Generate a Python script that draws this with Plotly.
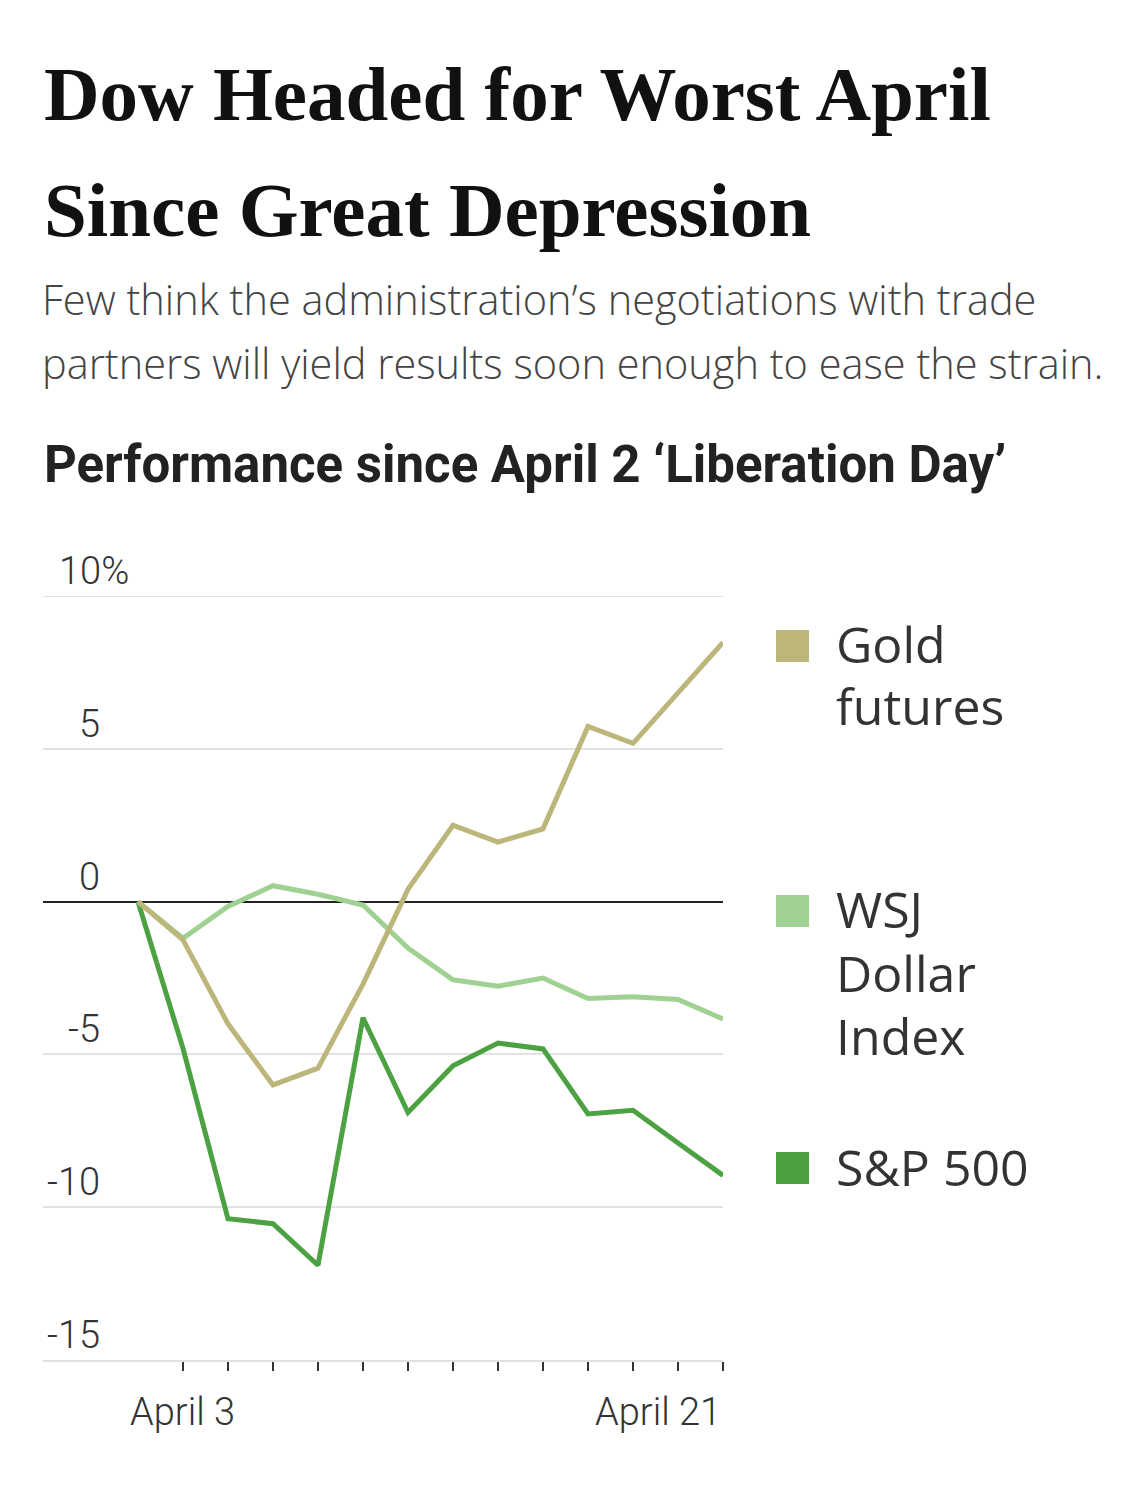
import plotly.graph_objects as go

# ---- data (percent change since April 2) ----
x_idx = list(range(14))
dates = ["Apr 2", "Apr 3", "Apr 4", "Apr 7", "Apr 8", "Apr 9", "Apr 10",
         "Apr 11", "Apr 14", "Apr 15", "Apr 16", "Apr 17", "Apr 21", "Apr 22"]
gold = [0, -1.25, -4.0, -6.0, -5.45, -2.7, 0.4, 2.5, 1.95, 2.38, 5.73, 5.18, 6.83, 8.48]
dollar = [0, -1.2, -0.16, 0.52, 0.24, -0.11, -1.52, -2.56, -2.77, -2.5, -3.17, -3.11, -3.2, -3.84]
sp500 = [0, -4.8, -10.38, -10.54, -11.9, -3.8, -6.9, -5.37, -4.63, -4.82, -6.95, -6.83, -7.9, -8.96]

y_ticks = [10, 5, 0, -5, -10, -15]
y_tick_text = ["10%", "5", "0", "-5", "-10", "-15"]
x_tick_vals = list(range(1, 14))
x_labels = [(1, "April 3", "center"), (13, "April 21", "right")]

legend_items = [("Gold futures", ["Gold", "futures"], "#bdb67b"),
                ("WSJ Dollar Index", ["WSJ", "Dollar", "Index"], "#9fd193"),
                ("S&P 500", ["S&P 500"], "#4ca242")]

OFF = 8                 # page body margin
W, H = 1141 - OFF, 1495 - OFF
L, R = 43, 723          # plot area px (reference coords)
T, B = 596, 1360

def px(xp):
    return (xp - L) / (R - L)

def py(yp):
    return (B - yp) / (B - T)

fig = go.Figure()
series = [("S&P 500", sp500, "#4ca242"), ("WSJ Dollar Index", dollar, "#9fd193"),
          ("Gold futures", gold, "#bdb67b")]
for name, vals, col in series:
    fig.add_trace(go.Scatter(x=x_idx, y=vals, mode="lines", name=name,
                             line=dict(color=col, width=5), hoverinfo="skip"))

ann = []
def text(xp, yp, s, size, family, color, weight=400, xanchor="left"):
    ann.append(dict(x=px(xp), y=py(yp), xref="paper", yref="paper", text=s,
                    showarrow=False, xanchor=xanchor, yanchor="middle",
                    font=dict(size=size, family=family, color=color, weight=weight)))

# titles
text(42, 94, "Dow Headed for Worst April", 77, "Liberation Serif", "#111", 700)
text(42, 210, "Since Great Depression", 77, "Liberation Serif", "#111", 700)
text(40, 299, "Few think the administration\u2019s negotiations with trade", 41.5,
     "Open Sans", "#444", 300)
text(40, 363, "partners will yield results soon enough to ease the strain.", 41.5,
     "Open Sans", "#444", 300)
text(42, 464, "Performance since April 2 \u2018Liberation Day\u2019", 51, "Roboto", "#222", 700)

# y tick labels
for v, s in zip(y_ticks, y_tick_text):
    ann.append(dict(x=px(102) if v != 10 else px(57), y=v, xref="paper", yref="y",
                    text=s, showarrow=False,
                    xanchor="right" if v != 10 else "left", yanchor="bottom", yshift=1,
                    font=dict(size=38, family="Roboto", color="#333", weight=300)))

# x labels
for xv, s, anc in x_labels:
    ann.append(dict(x=xv, y=py(1412), xref="x", yref="paper", text=s, showarrow=False,
                    xanchor=anc, yanchor="middle",
                    font=dict(size=38, family="Roboto", color="#333", weight=300)))

# legend
legend_y = [(646, [644, 706]), (911, [909, 973, 1036]), (1168, [1167])]
shapes = [dict(type="line", xref="paper", yref="y", x0=0, x1=1, y0=10, y1=10,
               line=dict(color="#e2e2e2", width=2), layer="below")]
for (name, lines, col), (sq, ly) in zip(legend_items, legend_y):
    shapes.append(dict(type="rect", xref="paper", yref="paper",
                       x0=px(776), x1=px(809), y0=py(sq + 16), y1=py(sq - 16),
                       fillcolor=col, line=dict(width=0)))
    for s, yy in zip(lines, ly):
        text(834, yy, s, 50, "Open Sans", "#333", 400)

fig.update_layout(
    width=W, height=H, margin=dict(l=L - OFF, r=1141 - R, t=T - OFF, b=1495 - B),
    paper_bgcolor="white", plot_bgcolor="white", showlegend=False,
    annotations=ann, shapes=shapes,
    xaxis=dict(range=[-2.11, 13], tickvals=x_tick_vals, ticktext=[""] * 13,
               ticks="outside", ticklen=9, tickwidth=2, tickcolor="#333",
               showgrid=False, zeroline=False, showline=True, linecolor="#e0e0e0",
               linewidth=2, fixedrange=True),
    yaxis=dict(range=[-15, 10], tickvals=y_ticks, showticklabels=False,
               showgrid=True, gridcolor="#e2e2e2", gridwidth=2,
               zeroline=True, zerolinecolor="#222", zerolinewidth=2,
               showline=False, fixedrange=True),
)

fig.write_html("out.html")
